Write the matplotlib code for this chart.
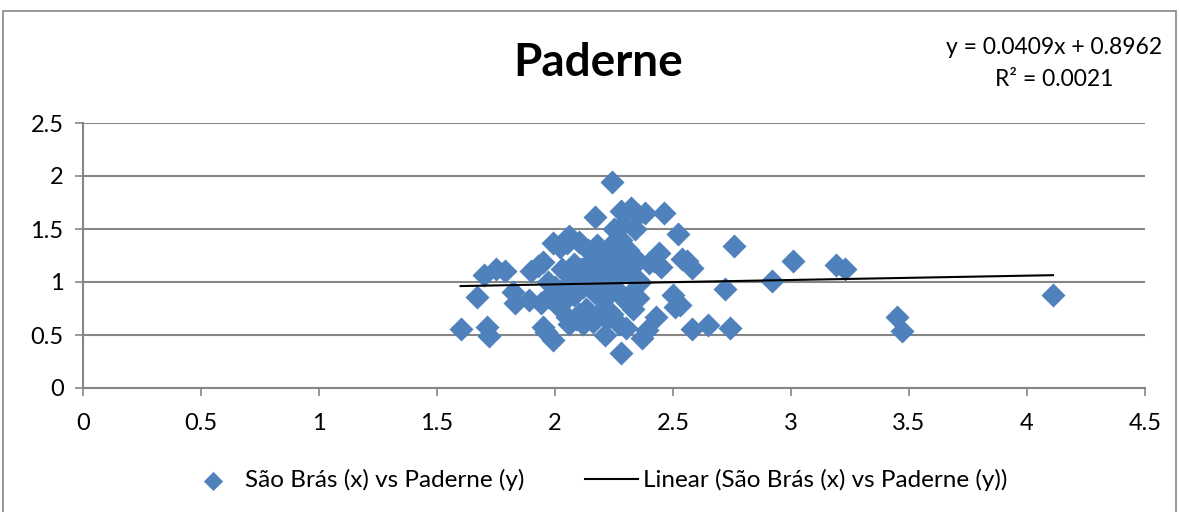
import matplotlib.pyplot as plt
from matplotlib.patches import Rectangle

# Dati: São Brás (x) vs Paderne (y)
sao_bras = [1.60, 1.67, 1.70, 1.71, 1.72, 1.75, 1.79, 1.82, 1.83, 1.89,
            1.90, 1.93, 1.95, 1.94, 1.95, 1.96, 1.97, 1.99, 1.99, 2.00,
            2.02, 2.03, 2.04, 2.05, 2.06, 2.06, 2.07, 2.08, 2.09, 2.10,
            2.11, 2.12, 2.13, 2.14, 2.15, 2.16, 2.17, 2.17, 2.18, 2.19,
            2.20, 2.21, 2.21, 2.22, 2.23, 2.24, 2.24, 2.25, 2.25, 2.26,
            2.27, 2.27, 2.28, 2.28, 2.29, 2.29, 2.30, 2.30, 2.31, 2.32,
            2.32, 2.33, 2.33, 2.34, 2.35, 2.35, 2.36, 2.37, 2.38, 2.39,
            2.40, 2.42, 2.43, 2.44, 2.45, 2.46, 2.50, 2.51, 2.52, 2.53,
            2.54, 2.56, 2.58, 2.58, 2.65, 2.72, 2.74, 2.76, 2.92, 3.01,
            3.19, 3.23, 3.45, 3.47, 4.11,
            1.97, 2.01, 2.03, 2.10, 2.12, 2.19, 2.22, 2.26, 2.31, 2.35,
            2.14, 2.18, 2.08, 2.05, 2.16, 2.28, 2.23, 2.30]
paderne = [0.56, 0.86, 1.07, 0.58, 0.49, 1.12, 1.10, 0.91, 0.80, 0.83,
           1.10, 1.15, 1.19, 0.80, 0.58, 0.53, 0.86, 1.37, 0.45, 0.95,
           1.33, 1.12, 0.82, 0.67, 1.43, 0.60, 1.05, 0.88, 0.65, 1.38,
           1.12, 0.95, 0.75, 1.30, 1.10, 0.62, 1.61, 0.90, 1.35, 1.20,
           1.00, 0.50, 0.85, 1.30, 1.12, 1.94, 0.70, 1.50, 0.95, 1.40,
           1.20, 0.60, 1.67, 0.33, 1.55, 0.85, 1.10, 0.57, 1.30, 1.70,
           0.90, 1.05, 0.75, 1.50, 1.63, 1.20, 1.00, 0.47, 1.65, 0.55,
           1.18, 1.20, 0.67, 1.27, 1.14, 1.65, 0.88, 0.76, 1.45, 0.78,
           1.22, 1.20, 1.13, 0.56, 0.59, 0.93, 0.57, 1.34, 1.01, 1.20,
           1.16, 1.12, 0.67, 0.54, 0.88,
           1.00, 0.78, 0.92, 0.70, 0.60, 0.72, 0.65, 1.05, 0.80, 0.85,
           1.05, 0.93, 1.17, 1.37, 1.22, 1.40, 1.25, 1.25]

# Retta di regressione (da Excel)
slope = 0.0409
intercept = 0.8962
r2 = 0.0021

blue = '#4F81BD'
grid_col = '#868686'
font = 'Lato'

fig = plt.figure(figsize=(11.79, 5.12), dpi=100)
ax = fig.add_axes([83 / 1179, 1 - 388 / 512, (1145 - 83) / 1179, (388 - 123) / 512])

ax.scatter(sao_bras, paderne, marker='D', s=150, color=blue, linewidths=0,
           label='São Brás (x) vs Paderne (y)', zorder=3)
x_line = [min(sao_bras), max(sao_bras)]
y_line = [slope * v + intercept for v in x_line]
ax.plot(x_line, y_line, color='black', linewidth=1.5,
        label='Linear (São Brás (x) vs Paderne (y))', zorder=4)

ax.set_xlim(0, 4.5)
ax.set_ylim(0, 2.5)
ax.set_xticks([0, 0.5, 1, 1.5, 2, 2.5, 3, 3.5, 4, 4.5])
ax.set_xticklabels(['0', '0.5', '1', '1.5', '2', '2.5', '3', '3.5', '4', '4.5'])
ax.set_yticks([0, 0.5, 1, 1.5, 2, 2.5])
ax.set_yticklabels(['0', '0.5', '1', '1.5', '2', '2.5'])
ax.yaxis.grid(True, color=grid_col, linewidth=1.5)
ax.set_axisbelow(True)
for side in ['top', 'right']:
    ax.spines[side].set_visible(False)
for side in ['left', 'bottom']:
    ax.spines[side].set_color(grid_col)
    ax.spines[side].set_linewidth(1.5)
ax.tick_params(axis='both', colors=grid_col, length=6, width=1.2,
               labelcolor='black', labelsize=17, pad=8)
ax.tick_params(axis='x', pad=12)
for lbl in ax.get_xticklabels() + ax.get_yticklabels():
    lbl.set_fontfamily(font)

fig.text(598 / 1179, 1 - 63 / 512, 'Paderne', ha='center', va='center',
         fontsize=33, fontweight='bold', fontfamily=font)
fig.text(1054 / 1179, 1 - 47 / 512, f'y = {slope}x + {intercept}', ha='center',
         va='center', fontsize=16.5, fontfamily=font)
fig.text(1054 / 1179, 1 - 80 / 512, f'R² = {r2}', ha='center', va='center',
         fontsize=16.5, fontfamily=font)

leg = fig.legend(loc='center', bbox_to_anchor=(597 / 1179, 1 - 480 / 512), ncol=2,
                 frameon=False, prop={'family': font, 'size': 17.5},
                 handlelength=2.2, columnspacing=2.5, handletextpad=0.2,
                 markerscale=0.8)

fig.patches.append(Rectangle((3 / 1179, -0.1), 1173 / 1179, 1.1 - 11 / 512,
                             transform=fig.transFigure, fill=False,
                             edgecolor=grid_col, linewidth=1.2))

plt.savefig('out.png', dpi=100)
